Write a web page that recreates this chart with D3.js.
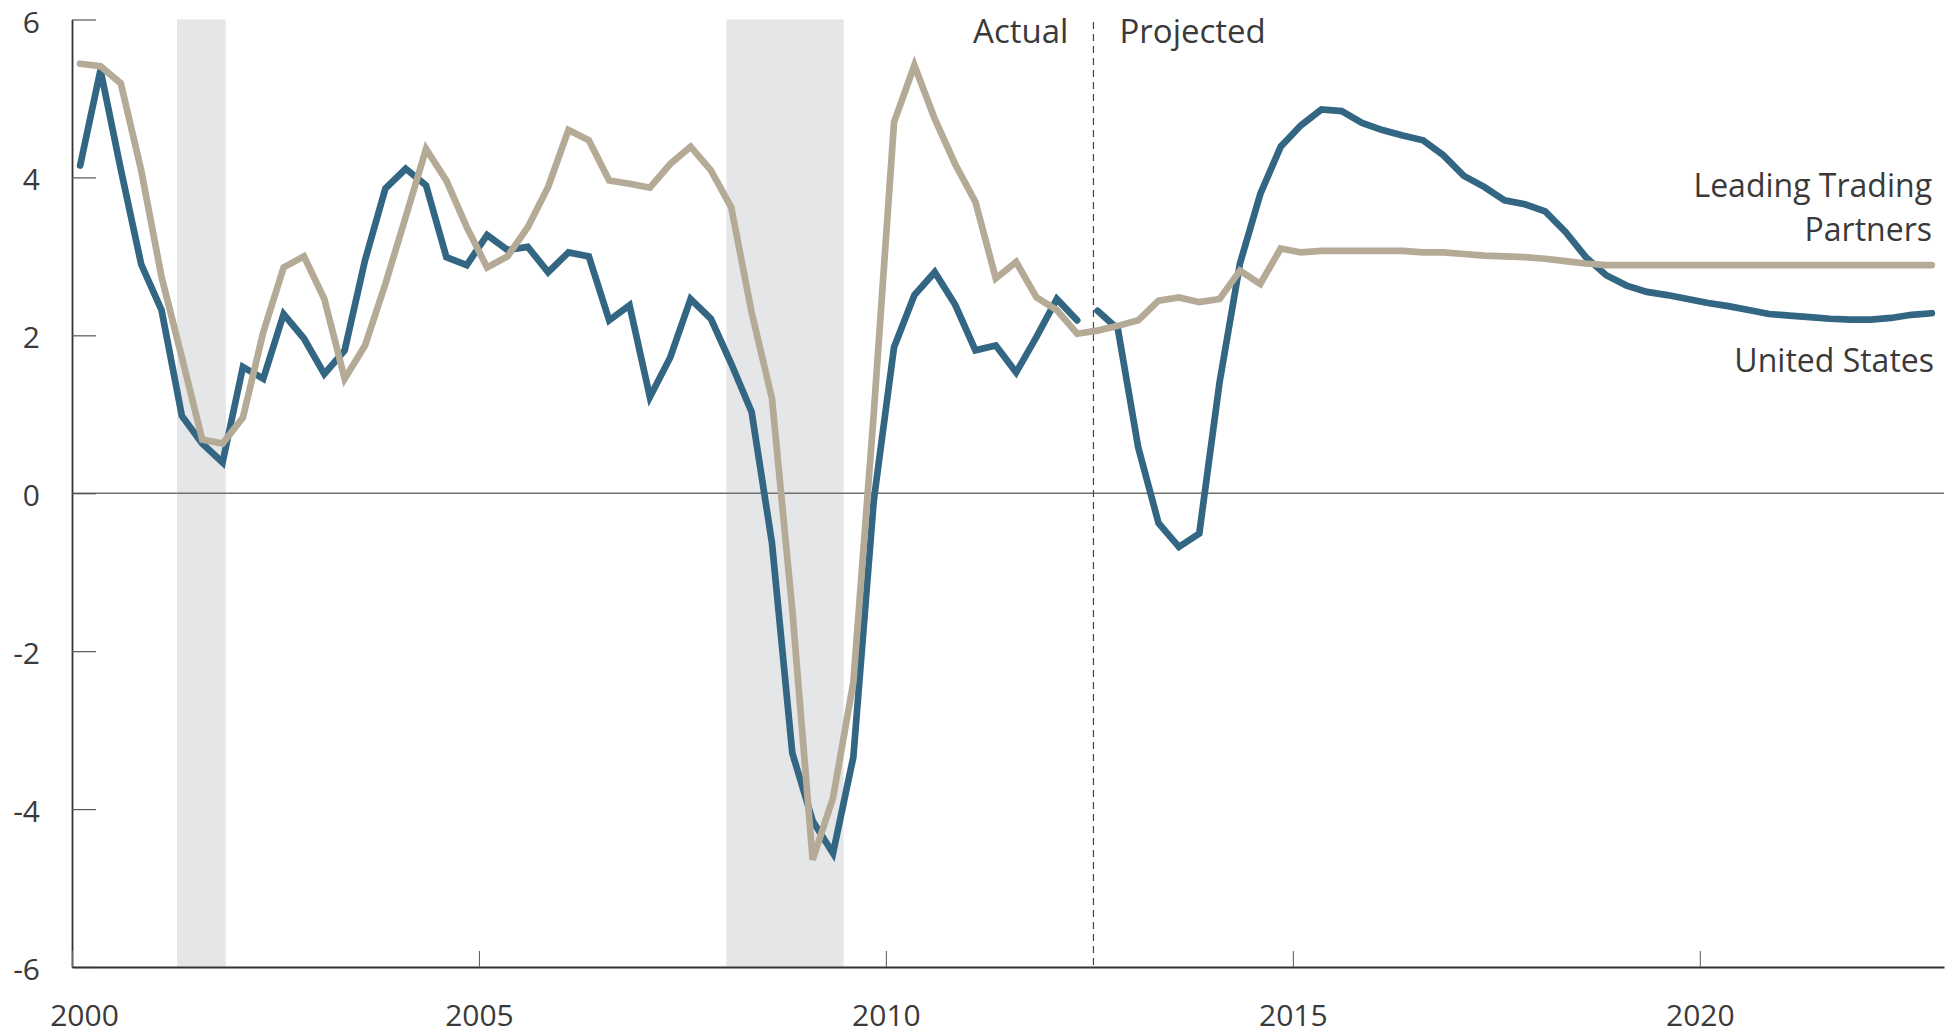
<!DOCTYPE html>
<html>

<head>
  <meta charset="utf-8">
  <title>Real GDP growth: United States and Leading Trading Partners</title>
  <script src="https://d3js.org/d3.v7.min.js"></script>
  <style>
    body {
      margin: 0;
      background-color: #ffffff;
    }

    .chart text {
      font-family: "Open Sans", sans-serif;
      fill: #3a3a3a;
    }

    .tick-label {
      font-size: 30px;
    }

    .note {
      font-size: 33px;
    }

    .series-label {
      font-size: 32px;
    }
  </style>
</head>

<body>
  <div class="chart"></div>
  <script>
    // quarterly values, first quarter of 2000 to last quarter of 2022
    const startYear = 2000;
    const usActual = [
      4.15, 5.36, 4.1, 2.9, 2.32, 0.98, 0.63, 0.39, 1.6, 1.45,
      2.27, 1.96, 1.51, 1.81, 2.95, 3.86, 4.11, 3.9, 2.99, 2.89,
      3.27, 3.08, 3.12, 2.8, 3.05, 3.0, 2.19, 2.38, 1.22, 1.72,
      2.46, 2.21, 1.64, 1.03, -0.63, -3.29, -4.15, -4.56, -3.34, -0.1,
      1.85, 2.51, 2.8, 2.39, 1.81, 1.87, 1.53, 1.98, 2.46, 2.19
    ];
    const usProjected = [
      2.31, 2.08, 0.58, -0.38, -0.68, -0.51, 1.41, 2.91, 3.79, 4.39,
      4.66, 4.86, 4.84, 4.69, 4.6, 4.53, 4.47, 4.28, 4.02, 3.88,
      3.71, 3.66, 3.57, 3.31, 2.99, 2.76, 2.63, 2.55, 2.51, 2.46,
      2.41, 2.37, 2.32, 2.27, 2.25, 2.23, 2.21, 2.2, 2.2, 2.22,
      2.26, 2.28
    ];
    const partners = [
      5.44, 5.41, 5.19, 4.09, 2.74, 1.72, 0.68, 0.63, 0.96, 2.04,
      2.86, 3.0, 2.46, 1.45, 1.87, 2.65, 3.5, 4.36, 3.96, 3.37,
      2.86, 3.0, 3.37, 3.88, 4.6, 4.47, 3.96, 3.92, 3.87, 4.17,
      4.39, 4.09, 3.62, 2.29, 1.2, -1.48, -4.64, -3.86, -2.39, 1.0,
      4.7, 5.42, 4.74, 4.17, 3.69, 2.72, 2.93, 2.48, 2.32, 2.02,
      2.06, 2.12, 2.19, 2.44, 2.48, 2.42, 2.46, 2.82, 2.65, 3.1,
      3.05, 3.07, 3.07, 3.07, 3.07, 3.07, 3.05, 3.05, 3.03, 3.01,
      3.0, 2.99, 2.97, 2.94, 2.91, 2.89, 2.89, 2.89, 2.89, 2.89,
      2.89, 2.89, 2.89, 2.89, 2.89, 2.89, 2.89, 2.89, 2.89, 2.89,
      2.89, 2.89
    ];
    const recessions = [[2001.29, 2001.89], [2008.04, 2009.48]];
    const projectionStart = 2012.55;
    const xTicks = [2000, 2005, 2010, 2015, 2020];
    const yTicks = [-6, -4, -2, 0, 2, 4, 6];

    const width = 1948;
    const height = 1034;
    const blue = "#326683";
    const tan = "#b4aa96";

    // x position of quarter i
    const quarter = (i) => startYear + 0.1 + i / 4;

    const x = d3.scaleLinear().domain([2000, 2023]).range([72, 1944]);
    const y = d3.scaleLinear().domain([-6, 6]).range([967, 19.5]);

    const svg = d3
      .select(".chart")
      .append("svg")
      .attr("width", width)
      .attr("height", height);

    // recession shading
    svg.selectAll(".recession")
      .data(recessions)
      .enter()
      .append("rect")
      .attr("class", "recession")
      .attr("x", (d) => x(d[0]))
      .attr("width", (d) => x(d[1]) - x(d[0]))
      .attr("y", y(6))
      .attr("height", y(-6) - y(6))
      .attr("fill", "#e5e6e8");

    // zero line
    svg.append("line")
      .attr("x1", x(2000))
      .attr("x2", x(2023))
      .attr("y1", y(0))
      .attr("y2", y(0))
      .attr("stroke", "#707070")
      .attr("stroke-width", 1.6);

    // actual / projected divider
    svg.append("line")
      .attr("x1", x(projectionStart))
      .attr("x2", x(projectionStart))
      .attr("y1", 22)
      .attr("y2", y(-6))
      .attr("stroke", "#444")
      .attr("stroke-width", 1.2)
      .attr("stroke-dasharray", "7,5");

    svg.append("text")
      .attr("class", "note")
      .attr("x", x(projectionStart) - 25)
      .attr("y", 43)
      .attr("text-anchor", "end")
      .text("Actual");

    svg.append("text")
      .attr("class", "note")
      .attr("x", x(projectionStart) + 26)
      .attr("y", 43)
      .text("Projected");

    // axes (plain hyphen for negatives, as in the original)
    const fmt = (d) => String(d);

    const yAxis = svg.append("g")
      .attr("transform", `translate(${x(2000)},0)`)
      .call(d3.axisLeft(y).tickValues(yTicks).tickSizeInner(-24).tickSizeOuter(0).tickPadding(32).tickFormat(fmt));
    yAxis.select(".domain").attr("stroke", "#333").attr("stroke-width", 1.8);
    yAxis.selectAll(".tick line").attr("stroke", "#555").attr("stroke-width", 1.2);
    yAxis.selectAll(".tick text")
      .attr("class", "tick-label")
      .attr("font-family", null)
      .attr("font-size", null)
      .attr("dy", 12.5);

    const xAxis = svg.append("g")
      .attr("transform", `translate(0,${y(-6)})`)
      .call(d3.axisBottom(x).tickValues(xTicks).tickSizeInner(-16).tickSizeOuter(0).tickFormat(fmt));
    xAxis.select(".domain").attr("stroke", "#333").attr("stroke-width", 2.2);
    xAxis.selectAll(".tick line").attr("stroke", "#666").attr("stroke-width", 1.1);
    xAxis.selectAll(".tick text")
      .attr("class", "tick-label")
      .attr("font-family", null)
      .attr("font-size", null)
      .attr("y", 59)
      .attr("dy", 0)
      .attr("dx", (d, i) => (i === 0 ? 12 : 0));

    // series lines
    const line = d3.line()
      .x((d) => x(d.t))
      .y((d) => y(d.v));

    const usActualPts = usActual.map((v, i) => ({ t: quarter(i), v: v }));
    const usProjectedPts = usProjected.map((v, i) => ({ t: quarter(usActual.length + i), v: v }));
    const partnerPts = partners.map((v, i) => ({ t: quarter(i), v: v }));

    [usActualPts, usProjectedPts].forEach((pts) => {
      svg.append("path")
        .datum(pts)
        .attr("d", line)
        .attr("fill", "none")
        .attr("stroke", blue)
        .attr("stroke-width", 6.7)
        .attr("stroke-linecap", "round");
    });

    svg.append("path")
      .datum(partnerPts)
      .attr("d", line)
      .attr("fill", "none")
      .attr("stroke", tan)
      .attr("stroke-width", 6.7)
      .attr("stroke-linecap", "round");

    // series labels
    const labels = svg.append("g").attr("class", "series-label").attr("text-anchor", "end");
    labels.append("text").attr("x", 1932).attr("y", 197).text("Leading Trading");
    labels.append("text").attr("x", 1932).attr("y", 241).text("Partners");
    labels.append("text").attr("x", 1934).attr("y", 372).text("United States");
  </script>
</body>

</html>
